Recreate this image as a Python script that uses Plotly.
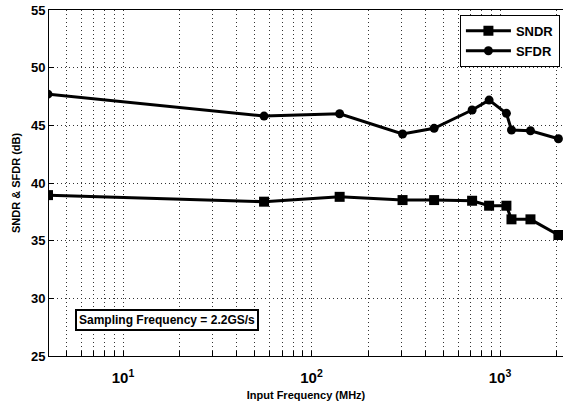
import numpy as np
import plotly.graph_objects as go

# Data
freq_mhz = [4, 56, 141, 304, 447, 711, 875, 1081, 1150, 1450, 2040]
sndr_db = [38.95, 38.38, 38.8, 38.52, 38.52, 38.46, 38.03, 38.03, 36.85, 36.85, 35.49]
sfdr_db = [47.7, 45.8, 46.0, 44.25, 44.74, 46.33, 47.19, 46.04, 44.6, 44.53, 43.84]

x_major_vals = [10, 100, 1000]
x_major_text = ["10<sup>1</sup>", "10<sup>2</sup>", "10<sup>3</sup>"]
x_minor_vals = [m * 10 ** e for e in range(0, 4) for m in range(2, 10)]
y_tick_vals = [25, 30, 35, 40, 45, 50, 55]

font_family = "Liberation Sans, Arial, sans-serif"
grid_dash = "1px,3px"
grid_color = "#333"

fig = go.Figure()
fig.add_trace(go.Scatter(
    x=freq_mhz, y=sndr_db, name="SNDR", mode="lines+markers",
    line=dict(color="black", width=3),
    marker=dict(symbol="square", size=10, color="black"),
))
fig.add_trace(go.Scatter(
    x=freq_mhz, y=sfdr_db, name="SFDR", mode="lines+markers",
    line=dict(color="black", width=3),
    marker=dict(symbol="circle", size=9, color="black"),
))

fig.update_layout(
    width=563, height=403,
    margin=dict(l=49, r=0, t=10, b=47),
    paper_bgcolor="white", plot_bgcolor="white",
    font=dict(family=font_family, color="black", size=11, weight="bold"),
    showlegend=True,
    legend=dict(
        x=0.994, y=0.986, xanchor="right", yanchor="top",
        bordercolor="black", borderwidth=1, bgcolor="white",
        font=dict(size=13, weight="bold"),
        itemwidth=45,
        tracegroupgap=2,
    ),
    annotations=[dict(
        x=0.23, y=0.105, xref="paper", yref="paper",
        xanchor="center", yanchor="middle",
        text="Sampling Frequency = 2.2GS/s", showarrow=False,
        font=dict(size=12, weight="bold"),
        bordercolor="black", borderwidth=2, borderpad=2, bgcolor="white",
    )],
)

fig.update_xaxes(
    type="log",
    range=[np.log10(4.05), 3.334],
    tickmode="array", tickvals=x_major_vals, ticktext=x_major_text,
    ticks="inside", ticklen=5, tickcolor="black", tickwidth=1,
    ticklabelstandoff=8,
    showgrid=True, gridcolor=grid_color, griddash=grid_dash, gridwidth=1,
    minor=dict(tickmode="array", tickvals=x_minor_vals, ticks="inside", ticklen=5,
               tickcolor="black", showgrid=True, gridcolor=grid_color,
               griddash=grid_dash, gridwidth=1),
    showline=True, linecolor="black", linewidth=1, mirror=True,
    tickfont=dict(size=15, weight="bold"),
    title=dict(text="Input Frequency (MHz)", font=dict(size=11, weight="bold"), standoff=6),
    zeroline=False,
)
fig.update_yaxes(
    range=[25, 55],
    tickmode="array", tickvals=y_tick_vals,
    ticks="inside", ticklen=5, tickcolor="black", tickwidth=1,
    showgrid=True, gridcolor=grid_color, griddash=grid_dash, gridwidth=1,
    showline=True, linecolor="black", linewidth=1, mirror=False,
    tickfont=dict(size=13, weight="bold"),
    title=dict(text="SNDR & SFDR (dB)", font=dict(size=11, weight="bold"), standoff=8),
    zeroline=False,
)

fig.write_html("out.html")
